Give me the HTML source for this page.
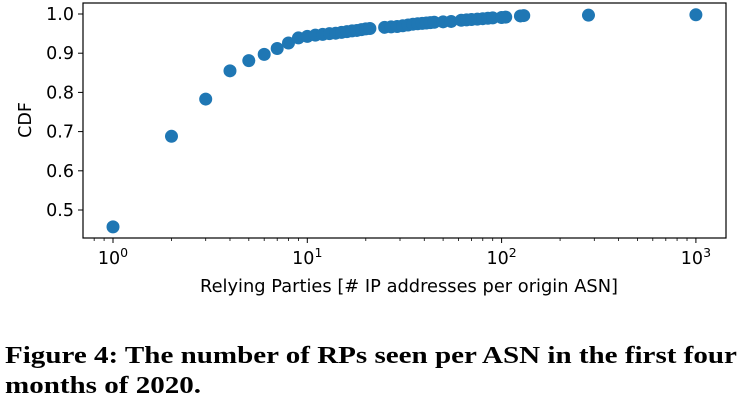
<!DOCTYPE html>
<html><head><meta charset="utf-8"><style>
body{margin:0;background:#fff;width:749px;height:413px;overflow:hidden;position:relative}
svg{position:absolute;left:0;top:0}
.cap{position:absolute;left:5px;font-family:"Liberation Serif",serif;font-weight:bold;font-size:24px;color:#000;white-space:nowrap;transform-origin:0 0;transform:scaleX(1.21)}
</style></head><body>
<svg width="749" height="330">
<g id="g" font-family="DejaVu Sans, Liberation Sans, sans-serif" font-size="17.5" fill="#000"></g>
</svg>
<div class="cap" style="top:343px">Figure 4: The number of RPs seen per ASN in the first four</div>
<div class="cap" style="top:373px">months of 2020.</div>
<script>
const xs=[1,2,3,4,5,6,7,8,9,10,11,12,13,14,15,16,17,18,19,20,21,25,27,29,31,33,35,37,39,41,43,45,50,55,62,66,70,75,80,85,90,100,105,125,130,280,1000];
const ys=[0.457,0.688,0.783,0.855,0.881,0.897,0.912,0.926,0.939,0.943,0.946,0.948,0.950,0.951,0.953,0.955,0.957,0.958,0.960,0.962,0.963,0.966,0.967,0.968,0.970,0.972,0.974,0.975,0.976,0.977,0.978,0.979,0.980,0.981,0.984,0.985,0.986,0.987,0.988,0.989,0.990,0.991,0.992,0.995,0.996,0.997,0.998];
const yTicks=[0.5,0.6,0.7,0.8,0.9,1.0];
const xTickExps=[0,1,2,3];
const NS='http://www.w3.org/2000/svg';
const g=document.getElementById('g');
const L=83,R=726,T=3,B=238;
const X=v=>113+Math.log10(v)*194.3;
const Y=v=>14+(1-v)*392;
function mk(t,a){const e=document.createElementNS(NS,t);for(const k in a)e.setAttribute(k,a[k]);g.appendChild(e);return e;}
let fr=mk('rect',{x:L,y:T,width:R-L,height:B-T,fill:'none',stroke:'#000','stroke-width':1.2});


yTicks.forEach(v=>{
 let l=mk('line',{x1:L-5,x2:L,y1:Y(v),y2:Y(v),stroke:'#000'});
 
 
 let t=mk('text',{x:L-9,y:Y(v)+6,'text-anchor':'end'});t.textContent=v.toFixed(1);
 
 
});
for(let d=-1;d<=3;d++)for(let m=2;m<=9;m++){const v=m*Math.pow(10,d);const x=X(v);if(x<L||x>R)continue;
 let l=mk('line',{x1:x,x2:x,y1:B,y2:B+3,stroke:'#000','stroke-width':0.8});
 
 }
xTickExps.forEach(e=>{const x=X(Math.pow(10,e));
 let l=mk('line',{x1:x,x2:x,y1:B,y2:B+5,stroke:'#000'});
 
 
 let t=mk('text',{x:x,y:B+26,'text-anchor':'middle'});
 t.innerHTML='10<tspan font-size="12.5" dy="-7">'+e+'</tspan>';
 
 
});
xs.forEach((v,i)=>{let c=mk('circle',{cx:X(v),cy:Y(ys[i]),r:6.5,fill:'#1f77b4'});
 
 });
let xl=mk('text',{x:200,y:292,textLength:418,lengthAdjust:'spacingAndGlyphs'});xl.textContent='Relying Parties [# IP addresses per origin ASN]';


let yl=mk('text',{x:0,y:0,'text-anchor':'middle',transform:'translate(31,120) rotate(-90)'});yl.textContent='CDF';


</script>
</body></html>
